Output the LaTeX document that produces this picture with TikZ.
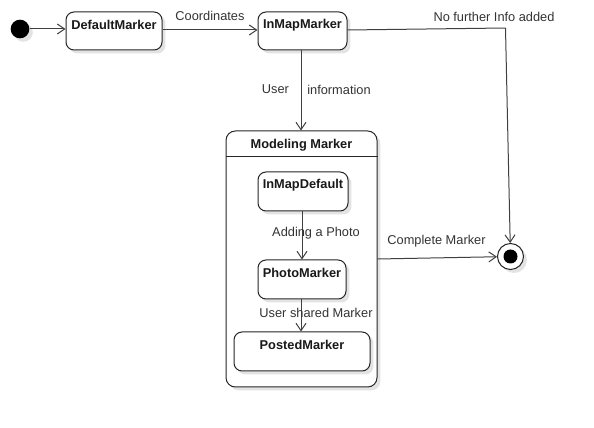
\documentclass[tikz,border=0pt]{standalone}
\usepackage{fontspec}
\setmainfont{Liberation Sans}
\usetikzlibrary{arrows.meta,shadows,fit}
\begin{document}
\begin{tikzpicture}[x=0.75pt,y=-0.75pt,
  shd/.style={drop shadow={shadow xshift=2.6pt,shadow yshift=-2.6pt,fill=black!11,opacity=1}},
  statebox/.style={draw=black!85,line width=0.75pt,rounded corners=6pt,fill=white,shd,inner sep=0pt},
  sname/.style={font=\fontsize{9.6}{11}\selectfont\bfseries,text=black!90,inner sep=0pt},
  lbl/.style={font=\fontsize{9.6}{11}\selectfont,text=black!80,inner sep=0pt},
  arr/.style={draw=black!75,line width=0.75pt,-{Straight Barb[length=5.5pt,width=7.5pt,line width=0.75pt]}},
  ln/.style={draw=black!75,line width=0.75pt}]
\useasboundingbox (0,0) rectangle (594,428);
% initial
\node[circle,fill=black,minimum size=14pt,inner sep=0pt,shd] (init) at (20,29) {};
% states
\node[statebox,fit={(66,12) (162,50)}] (dm) {};
\node[sname,anchor=center] (dmt) at (114,25) {DefaultMarker};
\node[statebox,fit={(258,12) (347,50)}] (imm) {};
\node[sname] (immt) at (302.5,25) {InMapMarker};
% container
\node[statebox,rounded corners=7pt,fit={(226,131) (377,387)}] (mm) {};
\draw[line width=0.75pt,draw=black!85] (mm.west |- 0,157) coordinate (hl) -- (mm.east |- 0,157) coordinate (hr);
\node[sname] (mmt) at (301.5,145) {Modeling Marker};
\node[statebox,fit={(258,172) (348,211)}] (imd) {};
\node[sname] (imdt) at (303,185) {InMapDefault};
\node[statebox,fit={(258,260) (346,299)}] (pm) {};
\node[sname] (pmt) at (302,273) {PhotoMarker};
\node[statebox,fit={(234,332) (370,371)}] (pst) {};
\node[sname] (pstt) at (302,345) {PostedMarker};
% final
\node[circle,draw=black!85,line width=0.75pt,fill=white,minimum size=19.5pt,inner sep=0pt,shd] (fin) at (510.5,256.5) {};
\node[circle,fill=black,minimum size=10.5pt,inner sep=0pt] (finin) at (fin) {};
% connectors
\draw[arr] (init) -- (dm.west |- init);
\draw[arr] (dm.east |- 0,30) -- (imm.west |- 0,30);
\coordinate (c1) at (505.5,28);
\draw[ln] (imm.east |- 0,30) -- (c1);
\draw[arr] (c1) -- (fin);
\draw[arr] (imm.south -| 301,0) -- (mm.north -| 301,0);
\draw[arr] (imd.south -| 302,0) -- (pm.north -| 302,0);
\draw[arr] (pm.south -| 301,0) -- (pst.north -| 301,0);
\draw[arr] (mm.east) -- (fin);
% labels
\node[lbl] (l1) at (210,16) {Coordinates};
\node[lbl] (l2) at (494,16.5) {No further Info added};
\node[lbl] (l3) at (275.5,89.5) {User};
\node[lbl] (l4) at (339,89.5) {information};
\node[lbl] (l5) at (316,233.5) {Adding a Photo};
\node[lbl] (l6) at (316,313) {User shared Marker};
\node[lbl] (l7) at (436.5,241.5) {Complete Marker};
\end{tikzpicture}
\end{document}
